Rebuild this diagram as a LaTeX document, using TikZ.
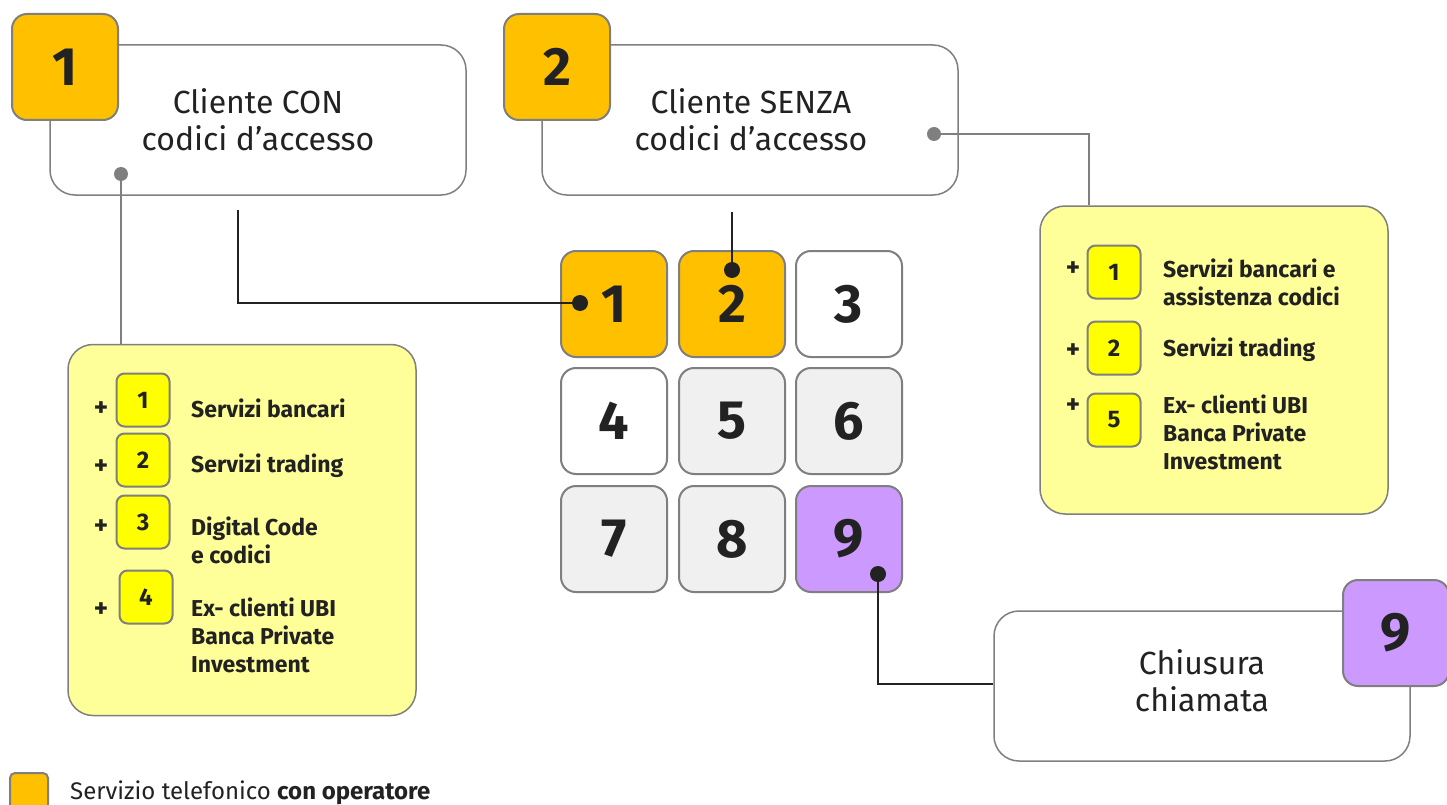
\documentclass[tikz,border=0pt]{standalone}
\usepackage{fontspec}
\setmainfont{Fira Sans}
\usetikzlibrary{positioning}
\definecolor{keyOrange}{RGB}{255,192,0}
\definecolor{paleYellow}{RGB}{255,255,153}
\definecolor{brightYellow}{RGB}{255,255,0}
\definecolor{keyPurple}{RGB}{204,153,255}
\definecolor{keyGray}{RGB}{240,240,240}
\definecolor{edgeGray}{RGB}{127,127,127}
\definecolor{inkDark}{RGB}{34,34,34}

\tikzset{
  card/.style={draw=edgeGray, line width=1.5pt, fill=white, rounded corners=25pt,
    minimum width=416pt, minimum height=150pt, inner sep=0pt},
  cardtext/.style={align=center, inner sep=0pt,
    font=\fontsize{32}{37}\selectfont, text=inkDark},
  badge/.style={draw=edgeGray, line width=2pt, rounded corners=15pt, minimum size=106pt,
    inner sep=0pt, font=\fontsize{54}{54}\selectfont\bfseries, text=inkDark},
  panel/.style={draw=edgeGray, line width=1.5pt, fill=paleYellow, rounded corners=25pt,
    minimum width=348pt, inner sep=0pt},
  chip/.style={draw=edgeGray, line width=2pt, fill=brightYellow, rounded corners=8pt,
    minimum size=53pt, inner sep=0pt, font=\fontsize{24}{24}\selectfont\bfseries, text=inkDark},
  item/.style={anchor=west, align=left, inner sep=0pt,
    font=\fontsize{23}{28}\selectfont\bfseries, text=inkDark},
  plus/.style={inner sep=0pt, font=\fontsize{27}{27}\selectfont\bfseries, text=inkDark},
  gdot/.style={circle, fill=edgeGray, minimum size=14pt, inner sep=0pt},
  kdot/.style={circle, fill=inkDark, minimum size=16pt, inner sep=0pt},
  gline/.style={draw=edgeGray, line width=1.5pt},
  kline/.style={draw=inkDark, line width=1.2pt}
}

\begin{document}
\begin{tikzpicture}[x=1pt, y=-1pt]
  \useasboundingbox[fill=white] (0,0) rectangle (1447,805);

  % Cliente CON
  \node[card] (con) at (258,120) {};
  \node[cardtext] (contxt) at (258,120) {Cliente CON\\codici d’accesso};
  \node[badge, fill=keyOrange] (b1) at (65,67) {1};
  % Cliente SENZA
  \node[card] (senza) at (750,120) {};
  \node[cardtext] (senzatxt) at (751,120) {Cliente SENZA\\codici d’accesso};
  \node[badge, fill=keyOrange] (b2) at (557,67) {2};

  % keypad
  \node[badge, fill=keyOrange] (k1) at (614,304) {1};
  \node[badge, fill=keyOrange] (k2) at (732,304) {2};
  \node[badge, fill=white]     (k3) at (849,304) {3};
  \node[badge, fill=white]     (k4) at (614,421) {4};
  \node[badge, fill=keyGray]   (k5) at (732,421) {5};
  \node[badge, fill=keyGray]   (k6) at (849,421) {6};
  \node[badge, fill=keyGray]   (k7) at (614,539) {7};
  \node[badge, fill=keyGray]   (k8) at (732,539) {8};
  \node[badge, fill=keyPurple] (k9) at (849,539) {9};

  % left panel
  \node[panel, minimum height=371pt] (listA) at (242,530) {};
  \node[chip] (a1) at (143,400) {1};
  \node[chip] (a2) at (143,460) {2};
  \node[chip] (a3) at (143,522) {3};
  \node[chip] (a4) at (146,597) {4};
  \node[plus] at (101,409) {+};
  \node[plus] at (101,467) {+};
  \node[plus] at (101,527) {+};
  \node[plus] at (101,610) {+};
  \node[item] at (191,408) {Servizi bancari};
  \node[item] at (191,466) {Servizi trading};
  \node[item] at (191,540) {Digital Code\\e codici};
  \node[item] at (191,635) {Ex- clienti UBI\\Banca Private\\Investment};

  % right panel
  \node[panel, minimum height=308pt] (listB) at (1214,360) {};
  \node[chip] (r1) at (1114,272) {1};
  \node[chip] (r2) at (1114,348) {2};
  \node[chip] (r5) at (1114,420) {5};
  \node[plus] at (1073,269) {+};
  \node[plus] at (1073,351) {+};
  \node[plus] at (1073,406) {+};
  \node[item] at (1163,282) {Servizi bancari e\\assistenza codici};
  \node[item] at (1163,350) {Servizi trading};
  \node[item] at (1163,432) {Ex- clienti UBI\\Banca Private\\Investment};

  % Chiusura
  \node[card] (fine) at (1202,686) {};
  \node[cardtext] (finetxt) at (1202,681) {Chiusura\\chiamata};
  \node[badge, fill=keyPurple] (b9) at (1396,633) {9};

  % connectors
  \node[gdot] (d1) at (121,174) {};
  \draw[gline] (d1) -- (d1 |- listA.north);
  \node[gdot] (d2) at (934,134) {};
  \draw[gline] (d2) -| ([xshift=-125pt]listB.north);
  \coordinate (s1) at (238,210);
  \coordinate (s2) at (732,212);
  \node[kdot] (kd1) at (580,303) {};
  \node[kdot] (kd2) at (732,270) {};
  \node[kdot] (kd9) at (878,574) {};
  \draw[kline] (s1) |- (kd1);
  \draw[kline] (s2) -- (kd2);
  \draw[kline] (kd9) |- ([yshift=2pt]fine.west);

  % legend
  \node[draw=edgeGray, line width=2pt, fill=keyOrange, rounded corners=5pt,
    minimum size=38pt, inner sep=0pt] (leg) at (29,792) {};
  \node[anchor=west, inner sep=0pt, font=\fontsize{24}{24}\selectfont, text=inkDark]
    (legtxt) at (70,793) {Servizio telefonico \textbf{con operatore}};
\end{tikzpicture}
\end{document}
